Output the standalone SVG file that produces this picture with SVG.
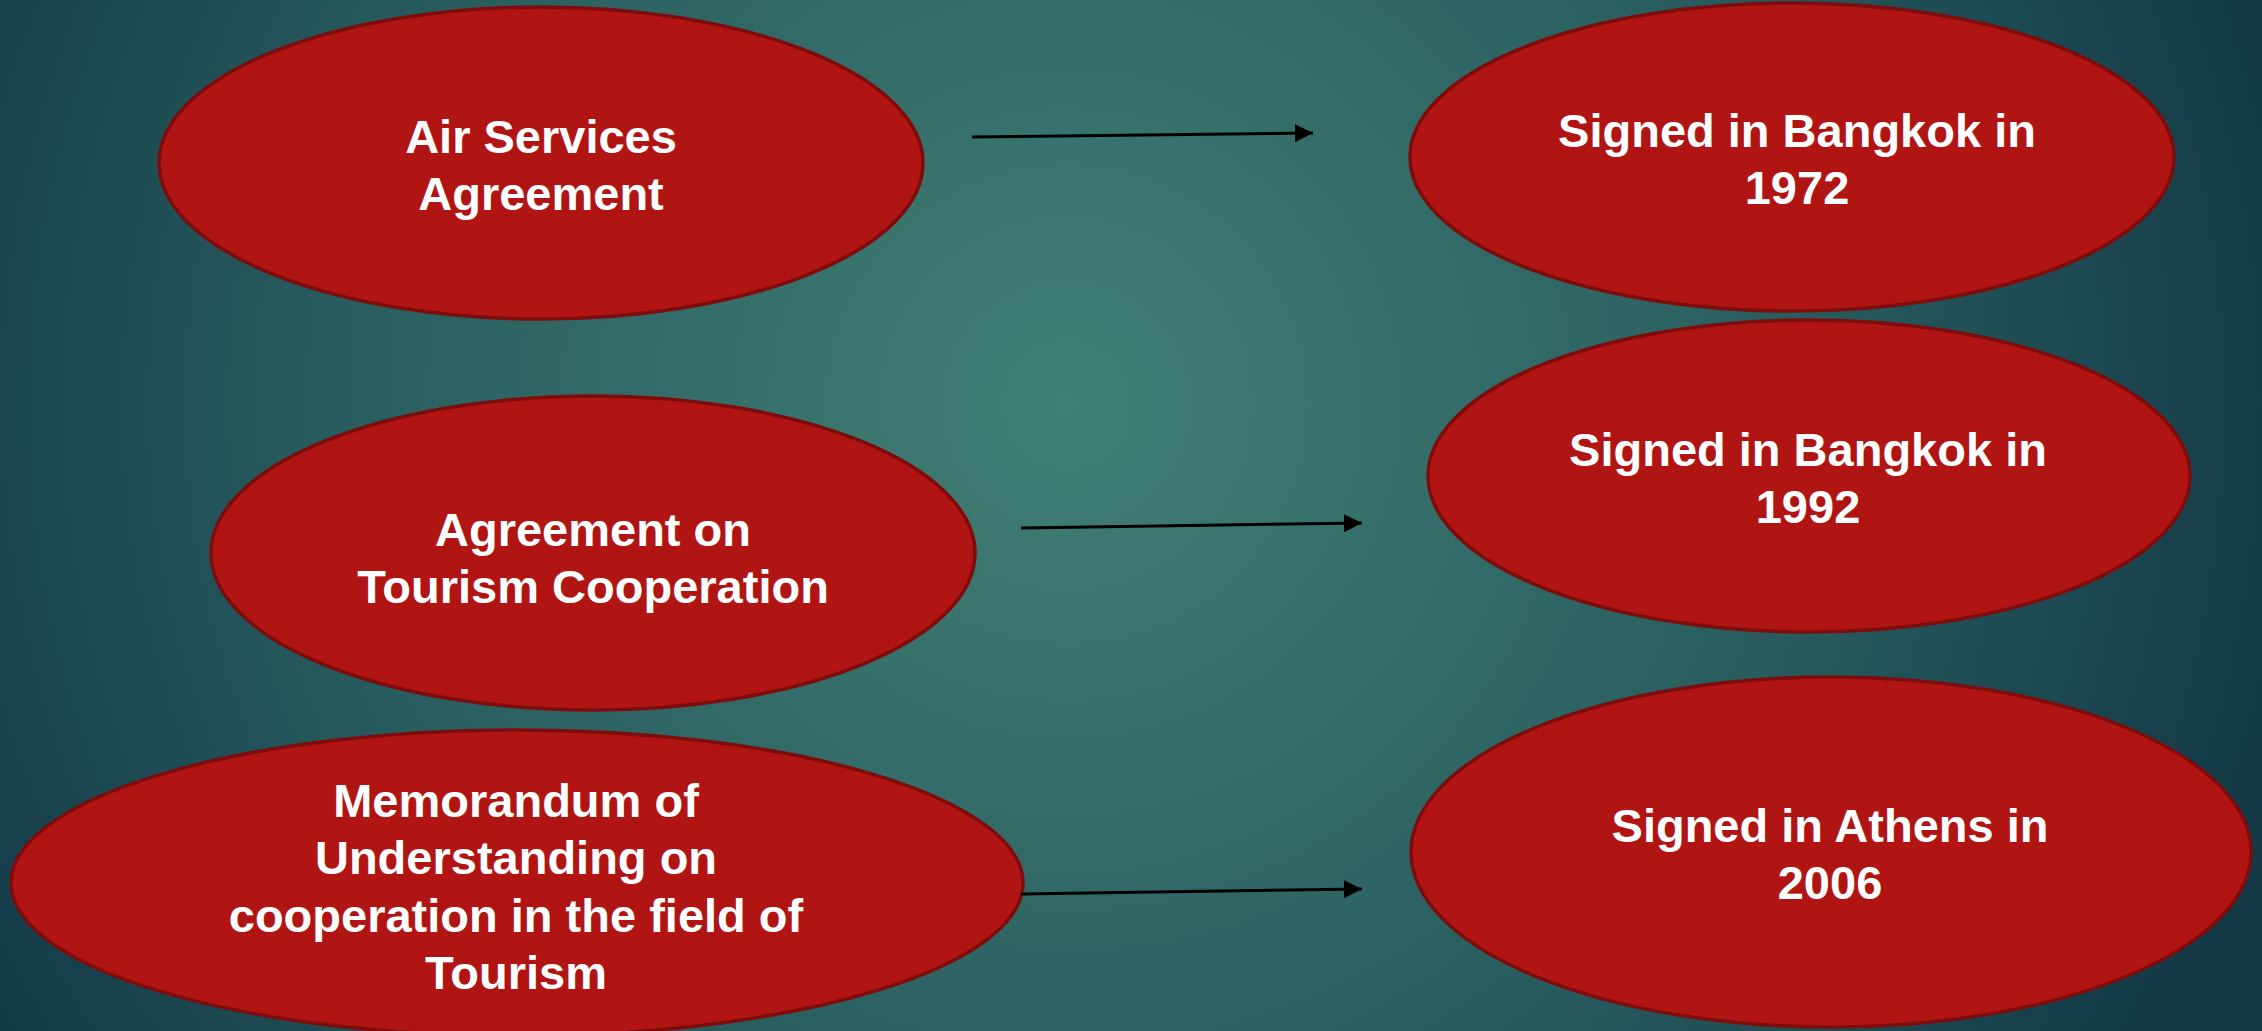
<svg xmlns="http://www.w3.org/2000/svg" width="2262" height="1031" viewBox="0 0 2262 1031">
<defs>
<radialGradient id="bg" cx="1067" cy="404" r="1250" gradientUnits="userSpaceOnUse">
<stop offset="0" stop-color="#417f74"/>
<stop offset="0.55" stop-color="#2a5f60"/>
<stop offset="1" stop-color="#133947"/>
</radialGradient>
<marker id="arr" markerWidth="6" markerHeight="6" refX="6" refY="3" orient="auto" markerUnits="strokeWidth">
<path d="M0,0 L6,3 L0,6 Z" fill="#000"/>
</marker>
<style>
.n ellipse{fill:#b01514;stroke:#7e0c0c;stroke-width:3.5}
.n text{fill:#fff;font-family:"Liberation Sans",Arial,sans-serif;font-weight:bold;font-size:47px;text-anchor:middle}
.c line{stroke:#000;stroke-width:3;marker-end:url(#arr)}
</style>
</defs>
<rect width="2262" height="1031" fill="url(#bg)"/>
<g id="n1" class="n">
<ellipse cx="541" cy="163" rx="382" ry="156"/>
<text x="541" y="153">Air Services</text>
<text x="541" y="210">Agreement</text>
</g>
<g id="n2" class="n">
<ellipse cx="1792" cy="157" rx="382" ry="154"/>
<text x="1797" y="147">Signed in Bangkok in</text>
<text x="1797" y="204">1972</text>
</g>
<g id="n3" class="n">
<ellipse cx="593" cy="553" rx="382" ry="157"/>
<text x="593" y="546">Agreement on</text>
<text x="593" y="603">Tourism Cooperation</text>
</g>
<g id="n4" class="n">
<ellipse cx="1809" cy="476" rx="381" ry="156"/>
<text x="1808" y="466">Signed in Bangkok in</text>
<text x="1808" y="523">1992</text>
</g>
<g id="n5" class="n">
<ellipse cx="517" cy="883" rx="506" ry="153"/>
<text x="516" y="817">Memorandum of</text>
<text x="516" y="874">Understanding on</text>
<text x="516" y="932">cooperation in the field of</text>
<text x="516" y="989">Tourism</text>
</g>
<g id="n6" class="n">
<ellipse cx="1831" cy="852" rx="420" ry="175"/>
<text x="1830" y="842">Signed in Athens in</text>
<text x="1830" y="899">2006</text>
</g>
<g id="connectors" class="c">
<line x1="972" y1="137" x2="1313" y2="133"/>
<line x1="1021" y1="528" x2="1362" y2="523"/>
<line x1="1021" y1="894" x2="1362" y2="889"/>
</g>
</svg>
